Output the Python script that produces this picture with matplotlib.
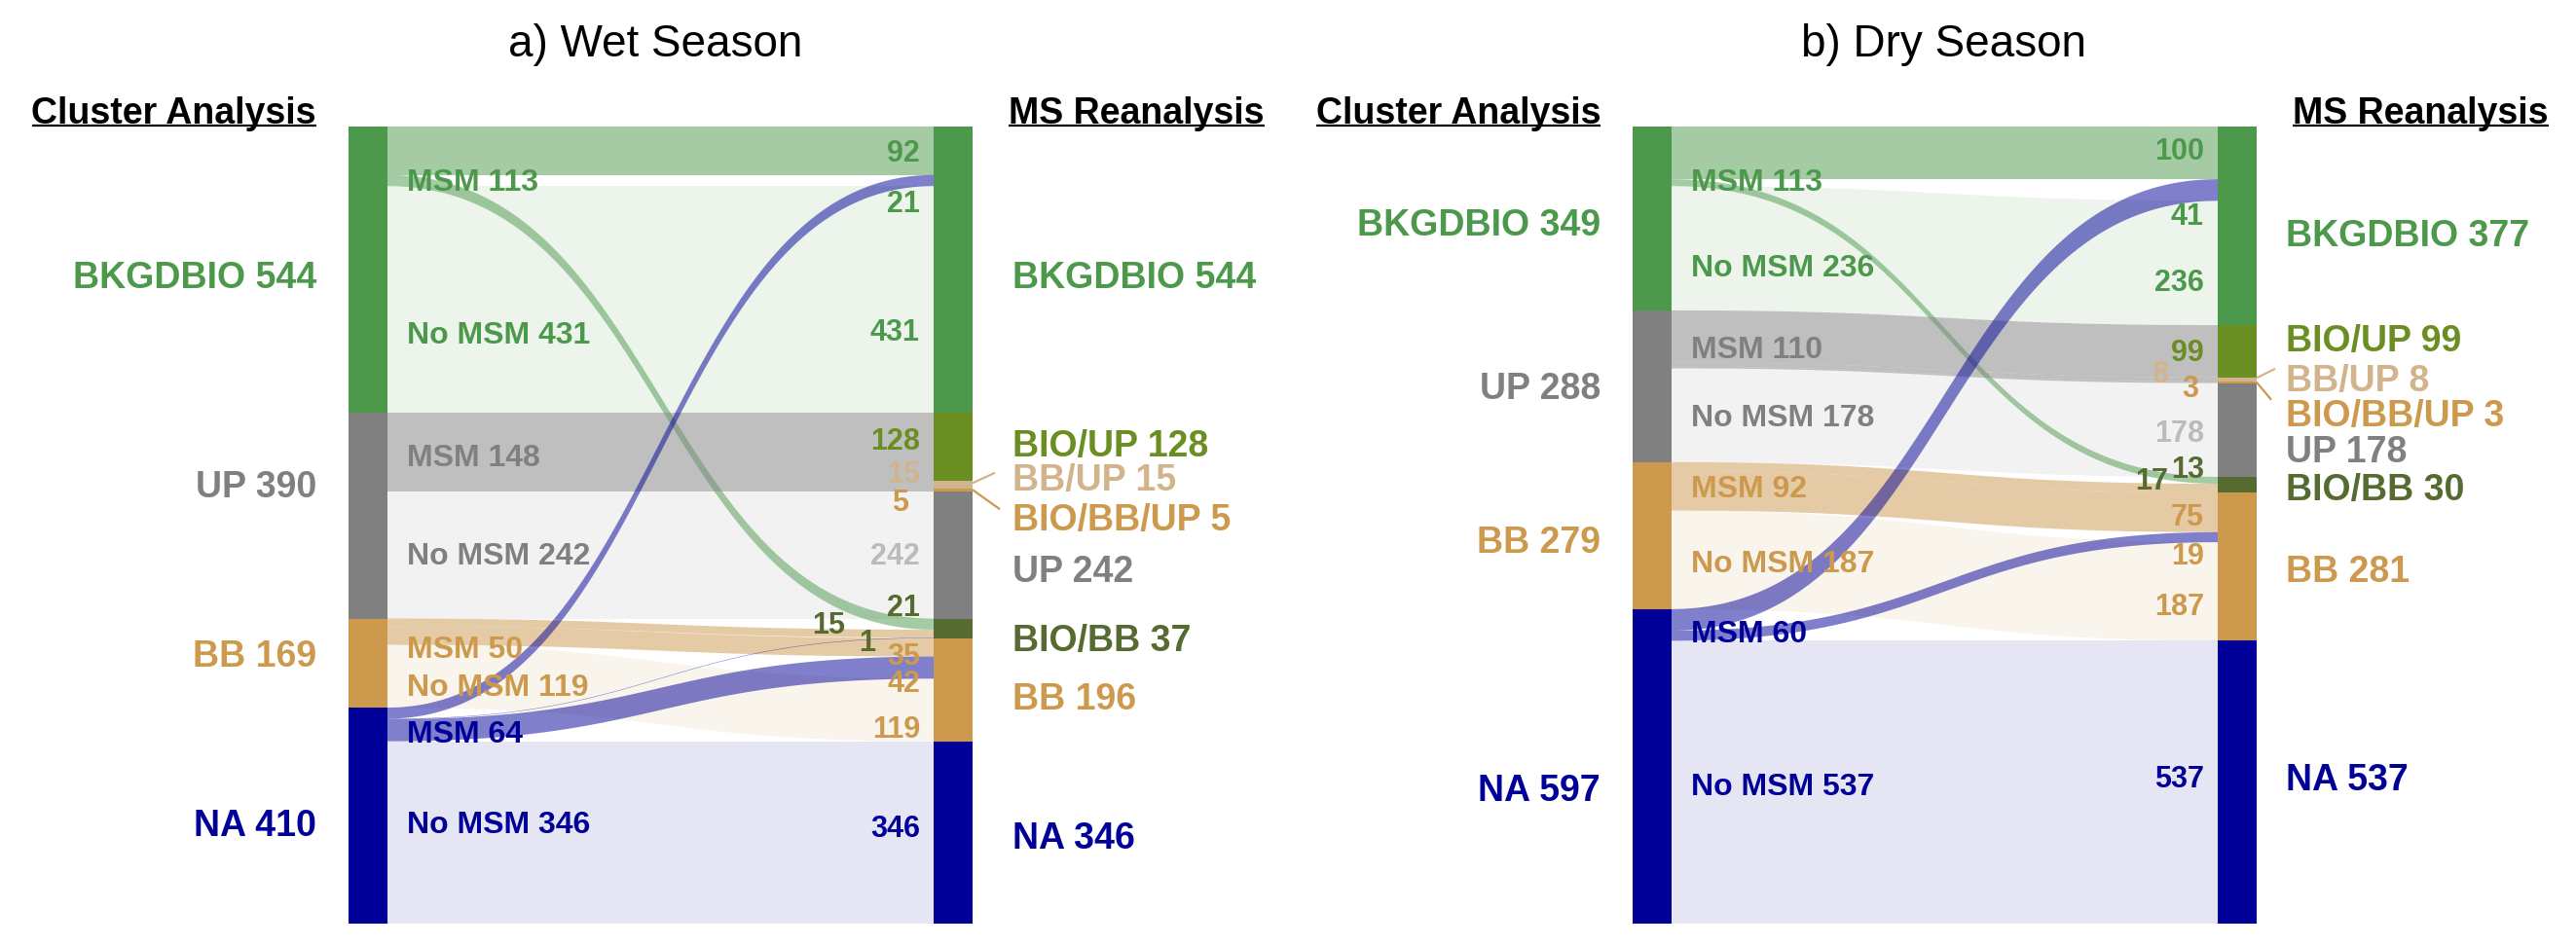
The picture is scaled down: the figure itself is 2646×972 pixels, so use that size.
import numpy as np
import matplotlib
matplotlib.use('Agg')
import matplotlib.pyplot as plt
from matplotlib.patches import Polygon

plt.rcParams['font.family'] = ['Liberation Sans', 'DejaVu Sans']

# ---------------- data ----------------
panel_titles = ['a) Wet Season', 'b) Dry Season']
left_header = 'Cluster Analysis'
right_header = 'MS Reanalysis'
left_nodes = ['BKGDBIO', 'UP', 'BB', 'NA']
right_nodes = ['BKGDBIO', 'BIO/UP', 'BB/UP', 'BIO/BB/UP', 'UP', 'BIO/BB', 'BB', 'NA']

wet_msm = [113, 148, 50, 64]
wet_no_msm = [431, 242, 119, 346]
wet_msm_src = ['BKGDBIO', 'BKGDBIO', 'UP', 'UP', 'UP', 'BB', 'BB', 'NA', 'NA', 'NA']
wet_msm_dst = ['BKGDBIO', 'BIO/BB', 'BIO/UP', 'BB/UP', 'BIO/BB/UP', 'BIO/BB', 'BB', 'BKGDBIO', 'BIO/BB', 'BB']
wet_msm_val = [92, 21, 128, 15, 5, 15, 35, 21, 1, 42]

dry_msm = [113, 110, 92, 60]
dry_no_msm = [236, 178, 187, 537]
dry_msm_src = ['BKGDBIO', 'BKGDBIO', 'UP', 'UP', 'UP', 'BB', 'BB', 'NA', 'NA']
dry_msm_dst = ['BKGDBIO', 'BIO/BB', 'BIO/UP', 'BB/UP', 'BIO/BB/UP', 'BIO/BB', 'BB', 'BKGDBIO', 'BB']
dry_msm_val = [100, 13, 99, 8, 3, 17, 75, 41, 19]

panels = [
    (wet_msm, wet_no_msm, wet_msm_src, wet_msm_dst, wet_msm_val),
    (dry_msm, dry_no_msm, dry_msm_src, dry_msm_dst, dry_msm_val),
]

# ---------------- style ----------------
GREEN, GRAY, TAN, NAVY = '#4C994C', '#808080', '#CC994D', '#000099'
OLIVE, DKOLIVE, LTAN = '#6B8E23', '#556B2F', '#D2B48C'
node_color = {'BKGDBIO': GREEN, 'UP': GRAY, 'BB': TAN, 'NA': NAVY,
              'BIO/UP': OLIVE, 'BB/UP': LTAN, 'BIO/BB/UP': TAN, 'BIO/BB': DKOLIVE}
value_color = dict(node_color)
value_color['UP'] = '#BBBBBB'

W, H, DPI = 2646, 972, 200
TOP, BOT = 130, 949
PANEL_W = 1323
panel_x0 = [0, 1319]
XL = (358, 398)
XR = (959, 999)
title_x = [673, 678]
right_label_x = [1040, 1029]
left_label_x = 325
sub_label_x = 418
value_x = 945

NODE_FS, SUB_FS, VAL_FS, HEAD_FS, TITLE_FS = 13.5, 11.5, 11, 13.5, 16.5

# label offsets in pixels (layout only)
left_node_dy = [[5, -32, -10, 8], [4, 0, 4, 22]]
sub_dy = [[(24, 34), (3, -2), (15, 9), (7, -11)],
          [(24, 18), (8, 0), (0, 1), (6, 2)]]
right_node_dy = [[5, -4, -7, 28, 14, 10, 7, 3],
                 [8, -13, -1, 32, 20, 2, 2, -5]]
value_off = [
    [(0, 0), (0, 22), (0, 31), (0, -8), (0, -13), (-12, 11), (0, -1),
     (0, -19), (-77, -11), (-46, 3), (0, 7), (0, 14), (0, 18), (0, -6)],
    [(0, -4), (0, 25), (0, 18), (0, -1), (-36, -8), (-6, 4), (0, 1),
     (0, -13), (-37, -10), (0, 2.5), (0, 17), (0, 13), (0, -6)],
]
leader_rel = [[(-18, -5), (-13, -8)], [(-11, -10), (-15, -14)]]

TOTAL = sum(wet_msm) + sum(wet_no_msm)
S = (BOT - TOP) / TOTAL


def c(px):
    return (px - TOP) / S


def put(ax, x, yc_px, s, size, color, ha, weight='bold'):
    cap = 0.716 * size * DPI / 72.0
    return ax.text(x, c(yc_px + cap / 2.0), s, fontsize=size, color=color,
                   ha=ha, va='baseline', fontweight=weight)


fig = plt.figure(figsize=(W / DPI, H / DPI), dpi=DPI)
fig.patch.set_facecolor('white')

t = np.linspace(0, 1, 160)
b0, b1, b2, b3 = (1 - t) ** 3, 3 * (1 - t) ** 2 * t, 3 * (1 - t) * t ** 2, t ** 3
x0f, x1f = XL[1], XR[0]
xm = 0.5 * (x0f + x1f)
xs = b0 * x0f + (b1 + b2) * xm + b3 * x1f

headers = []
for p, (msm, nomsm, msrc, mdst, mval) in enumerate(panels):
    ax = fig.add_axes([panel_x0[p] / W, 0, PANEL_W / W, 1])
    ax.set_xlim(0, PANEL_W)
    ax.set_ylim(c(H), c(0))
    ax.axis('off')

    # flows: (src, dst, val, is_msm)
    flows = [(s_, d_, v_, True) for s_, d_, v_ in zip(msrc, mdst, mval)]
    flows += [(n, n, v, False) for n, v in zip(left_nodes, nomsm)]

    left_vals = [a + b for a, b in zip(msm, nomsm)]
    left_top = np.concatenate([[0], np.cumsum(left_vals)[:-1]])
    right_vals = [sum(f[2] for f in flows if f[1] == n) for n in right_nodes]
    right_top = np.concatenate([[0], np.cumsum(right_vals)[:-1]])

    # source stacking
    y0 = {}
    for i, n in enumerate(left_nodes):
        cur = left_top[i]
        for k, f in enumerate(flows):
            if f[0] == n and f[3]:
                y0[k] = (cur, cur + f[2]); cur += f[2]
        for k, f in enumerate(flows):
            if f[0] == n and not f[3]:
                y0[k] = (cur, cur + f[2]); cur += f[2]
    # target stacking
    y1 = {}
    target_order = []
    for j, n in enumerate(right_nodes):
        inc = [k for k, f in enumerate(flows) if f[1] == n]
        inc.sort(key=lambda k: (0 if flows[k][3] else 1, left_nodes.index(flows[k][0])))
        cur = right_top[j]
        for k in inc:
            y1[k] = (cur, cur + flows[k][2]); cur += flows[k][2]
            target_order.append(k)

    # draw flows: light (no MSM) first, then MSM
    order = [k for k, f in enumerate(flows) if not f[3]] + [k for k, f in enumerate(flows) if f[3]]
    for k in order:
        s_, d_, v_, is_m = flows[k]
        top_c = (b0 + b1) * y0[k][0] + (b2 + b3) * y1[k][0]
        bot_c = (b0 + b1) * y0[k][1] + (b2 + b3) * y1[k][1]
        pts = np.column_stack([np.r_[xs, xs[::-1]], np.r_[top_c, bot_c[::-1]]])
        ax.add_patch(Polygon(pts, closed=True, facecolor=node_color[s_],
                             alpha=0.5 if is_m else 0.1, linewidth=0, zorder=1))

    # node bars
    ax.bar([0.5 * (XL[0] + XL[1])] * len(left_nodes), left_vals, bottom=left_top,
           width=XL[1] - XL[0], color=[node_color[n] for n in left_nodes], linewidth=0, zorder=3)
    ax.bar([0.5 * (XR[0] + XR[1])] * len(right_nodes), right_vals, bottom=right_top,
           width=XR[1] - XR[0], color=[node_color[n] for n in right_nodes], linewidth=0, zorder=3)

    # left node labels and sub labels
    for i, n in enumerate(left_nodes):
        cy = TOP + (left_top[i] + left_vals[i] / 2.0) * S + left_node_dy[p][i]
        put(ax, left_label_x, cy, f'{n} {left_vals[i]}', NODE_FS, node_color[n], 'right')
        cm = TOP + (left_top[i] + msm[i] / 2.0) * S + sub_dy[p][i][0]
        put(ax, sub_label_x, cm, f'MSM {msm[i]}', SUB_FS, node_color[n], 'left')
        cn = TOP + (left_top[i] + msm[i] + nomsm[i] / 2.0) * S + sub_dy[p][i][1]
        put(ax, sub_label_x, cn, f'No MSM {nomsm[i]}', SUB_FS, node_color[n], 'left')

    # right node labels
    rlab_pos = {}
    for j, n in enumerate(right_nodes):
        cy = TOP + (right_top[j] + right_vals[j] / 2.0) * S + right_node_dy[p][j]
        rlab_pos[n] = cy
        put(ax, right_label_x[p], cy, f'{n} {right_vals[j]}', NODE_FS, node_color[n], 'left')

    # value labels at flow ends
    for idx, k in enumerate(target_order):
        dx, dy = value_off[p][idx]
        cy = TOP + 0.5 * (y1[k][0] + y1[k][1]) * S + dy
        put(ax, value_x + dx, cy, f'{flows[k][2]}', VAL_FS, value_color[flows[k][1]], 'right')

    # leader lines for the thin nodes
    for li, (n, col) in enumerate([('BB/UP', LTAN), ('BIO/BB/UP', TAN)]):
        j = right_nodes.index(n)
        sy = TOP + (right_top[j] + right_vals[j] / 2.0) * S - (1.5 if li == 0 else 0)
        ex = right_label_x[p] + leader_rel[p][li][0]
        ey = rlab_pos[n] + leader_rel[p][li][1]
        ax.plot([XR[1], ex], [c(sy), c(ey)], color=col, lw=0.8, zorder=4,
                solid_capstyle='butt')

    # headers and title
    put(ax, title_x[p], 41.5, panel_titles[p], TITLE_FS, 'black', 'center', weight='normal')
    h1 = put(ax, left_label_x, 114, left_header, HEAD_FS, 'black', 'right')
    h2 = put(ax, right_label_x[0] - 4, 114, right_header, HEAD_FS, 'black', 'left')
    headers.append((ax, h1))
    headers.append((ax, h2))

fig.canvas.draw()
renderer = fig.canvas.get_renderer()
for ax, h in headers:
    bb = h.get_window_extent(renderer)
    inv = ax.transData.inverted()
    xa = inv.transform((bb.x0, 0))[0]
    xb = inv.transform((bb.x1, 0))[0]
    ax.plot([xa, xb], [c(129.5), c(129.5)], color='black', lw=0.8, solid_capstyle='butt', zorder=5)

fig.savefig('out.png', dpi=DPI, facecolor='white')
